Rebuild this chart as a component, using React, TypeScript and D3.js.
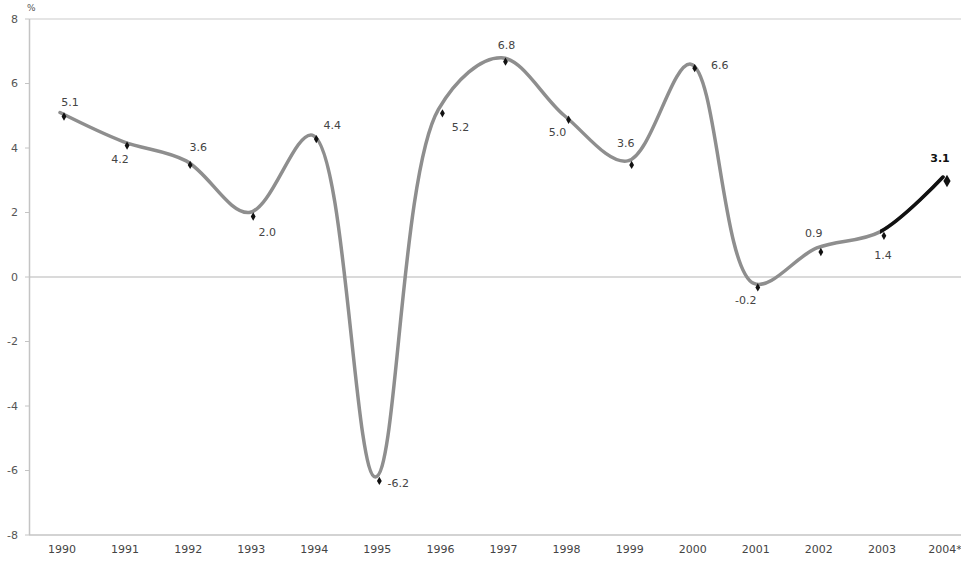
import React from "react";
import * as d3 from "d3";

const years = ["1990","1991","1992","1993","1994","1995","1996","1997","1998","1999","2000","2001","2002","2003","2004*"];
const growth = [5.1, 4.2, 3.6, 2.0, 4.4, -6.2, 5.2, 6.8, 5.0, 3.6, 6.6, -0.2, 0.9, 1.4, 3.1];
const yTicks = [8, 6, 4, 2, 0, -2, -4, -6, -8];
const yTickLabels = ["8", "6", "4", "2", "0", "-2", "-4", "-6", "-8"];
// label offsets (dx, dy) relative to point
const labelDx = [10, -3, 12, 18, 20, 23, 22, 5, -7, -2, 29, -8, -3, 3, -3];
const labelDy = [-10, 18, -14, 20, -10, 6, 18, -13, 16, -18, 1, 17, -15, 23, -19];

const W = 961, H = 565;
const FONT = "DejaVu Sans, Verdana, sans-serif";

export default function App() {
  const x = d3.scalePoint<string>().domain(years).range([60, 943]);
  const y = d3.scaleLinear().domain([-8, 8]).range([535, 19]);
  const pts: [number, number][] = years.map((yr, i) => [x(yr) as number, y(growth[i])]);
  const line = d3.line().curve(d3.curveCatmullRom.alpha(0.5));
  const d = line(pts) || "";
  const diamond = d3.symbol().type(d3.symbolDiamond);
  const last = years.length - 1;
  const xClip = x(years[last - 1]) as number;

  return (
    <svg width={W} height={H} style={{ position: "absolute", left: 0, top: 0, background: "#fff" }}>
      <defs>
        <clipPath id="lastSeg">
          <rect x={xClip} y={0} width={W - xClip} height={H} />
        </clipPath>
      </defs>
      {/* top border */}
      <line x1={29} x2={W} y1={y(8)} y2={y(8)} stroke="#dcdcdc" strokeWidth={1.5} />
      {/* zero line */}
      <line x1={29} x2={W} y1={y(0)} y2={y(0)} stroke="#dadada" strokeWidth={2} />
      {/* axes */}
      <line x1={29.5} x2={29.5} y1={y(8)} y2={y(-8)} stroke="#c4c4c4" strokeWidth={1.5} />
      <line x1={29} x2={W} y1={y(-8)} y2={y(-8)} stroke="#c4c4c4" strokeWidth={1.5} />
      {yTicks.map((t, i) => (
        <g key={t}>
          <line x1={25} x2={29} y1={y(t)} y2={y(t)} stroke="#c4c4c4" />
          <text x={18} y={y(t)} dy="0.35em" textAnchor="end" fontFamily={FONT} fontSize={11} fill="#555">
            {yTickLabels[i]}
          </text>
        </g>
      ))}
      <text x={27} y={11} fontFamily={FONT} fontSize={9} fill="#555">%</text>
      {years.map((yr) => (
        <text key={yr} x={(x(yr) as number) + 2} y={553} textAnchor="middle" fontFamily={FONT} fontSize={11} fill="#444">
          {yr}
        </text>
      ))}
      <path d={d} fill="none" stroke="#8e8e8e" strokeWidth={3.5} strokeLinejoin="round" strokeLinecap="round" />
      <path d={d} fill="none" stroke="#111" strokeWidth={3.5} clipPath="url(#lastSeg)" strokeLinecap="round" />
      {pts.map((p, i) => (
        <path
          key={"m" + i}
          d={diamond.size(i === last ? 45 : 20)() || ""}
          transform={`translate(${p[0] + 4},${p[1] + 4})`}
          fill="#111"
        />
      ))}
      {pts.map((p, i) => (
        <text
          key={"l" + i}
          x={p[0] + labelDx[i]}
          y={p[1] + labelDy[i]}
          dy="0.35em"
          textAnchor="middle"
          fontFamily={FONT}
          fontSize={11}
          fontWeight={i === last ? "bold" : "normal"}
          fill={i === last ? "#111" : "#444"}
        >
          {growth[i].toFixed(1)}
        </text>
      ))}
    </svg>
  );
}
